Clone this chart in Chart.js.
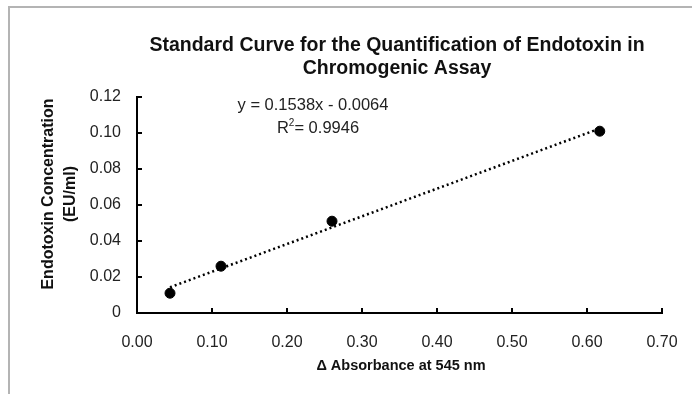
<!DOCTYPE html>
<html>
<head>
<meta charset="utf-8">
<script src="https://cdn.jsdelivr.net/npm/chart.js@4"></script>
<style>
  html, body { margin: 0; padding: 0; background: #fff; }
  #wrap { position: relative; width: 692px; height: 394px; overflow: hidden; }
  #frame { position: absolute; left: 8px; top: 6px; width: 800px; height: 500px; border: 2px solid #b4b4b4; }
  canvas { position: absolute; left: 0; top: 0; }
</style>
</head>
<body>
<div id="wrap">
  <div id="frame"></div>
  <canvas id="curve" width="692" height="394"></canvas>
</div>
<script>
// measured points (delta absorbance vs endotoxin EU/ml)
var absorbance = [0.044, 0.112, 0.260, 0.617];
var endotoxin = [0.011, 0.026, 0.051, 0.101];
// trendline ends
var trendX = [0.044, 0.617];
var trendY = [0.0143, 0.1025];
var xTicks = [0, 0.1, 0.2, 0.3, 0.4, 0.5, 0.6, 0.7];
var yTicks = [0, 0.02, 0.04, 0.06, 0.08, 0.10, 0.12];

var FONT = "'Liberation Sans', Arial, sans-serif";

var decor = {
    id: 'decor',
    afterDraw: function (chart) {
        var ctx = chart.ctx;
        var xs = chart.scales.x, ys = chart.scales.y;
        var area = chart.chartArea;
        ctx.save();
        // inside tick marks
        ctx.strokeStyle = '#000';
        ctx.lineWidth = 2;
        xTicks.forEach(function (v) {
            var px = Math.round(xs.getPixelForValue(v));
            ctx.beginPath();
            ctx.moveTo(px, area.bottom);
            ctx.lineTo(px, area.bottom - 5);
            ctx.stroke();
        });
        yTicks.forEach(function (v) {
            var py = Math.round(ys.getPixelForValue(v));
            ctx.beginPath();
            ctx.moveTo(area.left, py);
            ctx.lineTo(area.left + 5, py);
            ctx.stroke();
        });

        ctx.fillStyle = '#111';
        ctx.textAlign = 'center';
        ctx.textBaseline = 'middle';
        // title
        ctx.font = 'bold 19.5px ' + FONT;
        ctx.fillText('Standard Curve for the Quantification of Endotoxin in', 397, 46);
        ctx.fillText('Chromogenic Assay', 397, 69);

        // equation
        ctx.fillStyle = '#222';
        ctx.font = '16.5px ' + FONT;
        ctx.fillText('y = 0.1538x - 0.0064', 313, 105);
        ctx.textAlign = 'left';
        var r1 = 'R', r2 = '= 0.9946';
        var w1 = ctx.measureText(r1).width;
        ctx.font = '10px ' + FONT;
        var ws = ctx.measureText('2').width;
        ctx.font = '16.5px ' + FONT;
        var w2 = ctx.measureText(r2).width;
        var sx = 318 - (w1 + ws + w2) / 2;
        ctx.fillText(r1, sx, 128);
        ctx.font = '10px ' + FONT;
        ctx.fillText('2', sx + w1, 123);
        ctx.font = '16.5px ' + FONT;
        ctx.fillText(r2, sx + w1 + ws, 128);

        // axis titles
        ctx.fillStyle = '#111';
        ctx.textAlign = 'center';
        ctx.font = 'bold 14.5px ' + FONT;
        ctx.fillText('\u0394 Absorbance at 545 nm', 401, 366);
        ctx.font = 'bold 16px ' + FONT;
        ctx.translate(49, 194);
        ctx.rotate(-Math.PI / 2);
        ctx.fillText('Endotoxin Concentration', 0, 0);
        ctx.fillText('(EU/ml)', 0, 22);
        ctx.restore();
    }
};

new Chart(document.getElementById('curve'), {
    type: 'scatter',
    data: {
        datasets: [
            {
                label: 'Linear fit',
                data: trendX.map(function (x, i) { return { x: x, y: trendY[i] }; }),
                showLine: true,
                borderColor: '#000',
                borderWidth: 2.5,
                borderDash: [2, 3],
                pointRadius: 0
            },
            {
                label: 'Standards',
                data: absorbance.map(function (x, i) { return { x: x, y: endotoxin[i] }; }),
                backgroundColor: '#000',
                borderColor: '#000',
                pointRadius: 5,
                pointHoverRadius: 5
            }
        ]
    },
    plugins: [decor],
    options: {
        responsive: false,
        animation: false,
        layout: { padding: { left: 0, top: 97, right: 30, bottom: 0 } },
        plugins: {
            legend: { display: false },
            title: { display: false },
            tooltip: { enabled: false }
        },
        scales: {
            x: {
                type: 'linear',
                min: 0,
                max: 0.7,
                afterFit: function (scale) { scale.height = 81; },
                afterBuildTicks: function (scale) {
                    scale.ticks = xTicks.map(function (v) { return { value: v }; });
                },
                grid: { display: false },
                border: { display: true, color: '#000', width: 2 },
                ticks: {
                    padding: 12,
                    color: '#222',
                    font: { family: FONT, size: 16 },
                    callback: function (v) { return v.toFixed(2); }
                }
            },
            y: {
                type: 'linear',
                min: 0,
                max: 0.12,
                afterFit: function (scale) { scale.width = 137; },
                afterBuildTicks: function (scale) {
                    scale.ticks = yTicks.map(function (v) { return { value: v }; });
                },
                grid: { display: false },
                border: { display: true, color: '#000', width: 2 },
                ticks: {
                    padding: 8,
                    color: '#222',
                    font: { family: FONT, size: 16 },
                    callback: function (v) { return v === 0 ? '0' : v.toFixed(2); }
                }
            }
        }
    }
});
</script>
</body>
</html>
